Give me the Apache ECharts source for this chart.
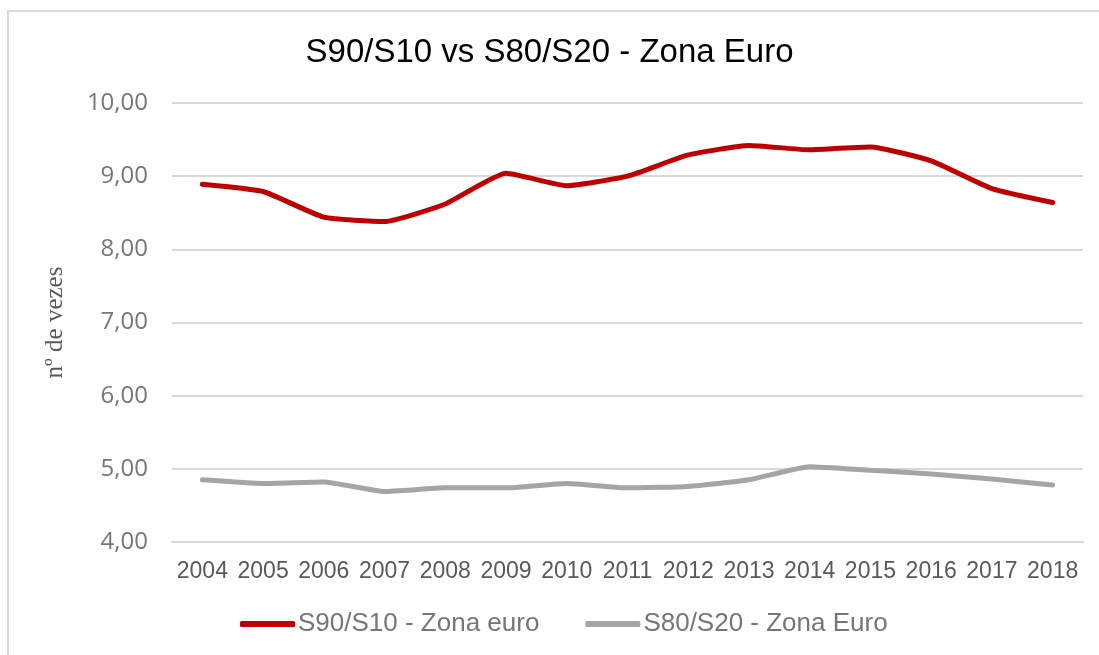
<!DOCTYPE html>
<html>
<head>
<meta charset="utf-8">
<script src="https://cdn.jsdelivr.net/npm/echarts@6/dist/echarts.min.js"></script>
<style>
html,body{margin:0;padding:0;background:#fff;}
#chart{width:1099px;height:655px;}
</style>
</head>
<body>
<div id="chart"></div>
<script>
// dados
var years = ['2004','2005','2006','2007','2008','2009','2010','2011','2012','2013','2014','2015','2016','2017','2018'];
var s90s10 = [8.89, 8.79, 8.44, 8.38, 8.62, 9.04, 8.87, 9.00, 9.29, 9.42, 9.36, 9.40, 9.21, 8.83, 8.64];
var s80s20 = [4.85, 4.80, 4.82, 4.69, 4.74, 4.74, 4.80, 4.74, 4.76, 4.85, 5.03, 4.98, 4.93, 4.86, 4.78];
var seriesNames = ['S90/S10 - Zona euro', 'S80/S20 - Zona Euro'];

var chart = echarts.init(document.getElementById('chart'));
var option = {
    backgroundColor: '#fff',
    animation: false,
    title: {
        text: 'S90/S10 vs S80/S20 - Zona Euro',
        left: 'center',
        top: 31,
        textStyle: {
            fontFamily: 'Liberation Sans, Arial, sans-serif',
            fontSize: 33,
            fontWeight: 'normal',
            color: '#000'
        }
    },
    graphic: [{
        type: 'rect',
        shape: {x: 8, y: 11, width: 1200, height: 800},
        style: {fill: 'none', stroke: '#d9d9d9', lineWidth: 2},
        silent: true
    }],
    legend: {
        top: 606,
        left: 235,
        itemWidth: 55,
        itemHeight: 6,
        itemGap: 46,
        icon: 'roundRect',
        textStyle: {
            fontFamily: 'Liberation Sans, Arial, sans-serif',
            fontSize: 26,
            color: '#767676',
            padding: [0, 0, 0, -2]
        },
        data: seriesNames
    },
    grid: {
        left: 172,
        right: 16,
        top: 103,
        bottom: 113
    },
    xAxis: {
        type: 'category',
        data: years,
        boundaryGap: true,
        axisLine: {lineStyle: {color: '#d9d9d9', width: 2}},
        axisTick: {show: false},
        axisLabel: {
            fontFamily: 'Liberation Sans, Arial, sans-serif',
            fontSize: 23,
            color: '#595959',
            margin: 18,
            interval: 0
        }
    },
    yAxis: {
        type: 'value',
        min: 4,
        max: 10,
        interval: 1,
        name: 'nº de vezes',
        nameLocation: 'middle',
        nameGap: 104,
        nameTextStyle: {
            fontFamily: 'Liberation Serif, Times New Roman, serif',
            fontSize: 25,
            color: '#595959'
        },
        axisLine: {show: false},
        axisTick: {show: false},
        splitLine: {lineStyle: {color: '#d9d9d9', width: 2}},
        axisLabel: {
            fontFamily: 'Open Sans, sans-serif',
            fontSize: 24,
            color: '#767676',
            margin: 24,
            formatter: function (v) { return v.toFixed(2).replace('.', ','); }
        }
    },
    series: [
        {
            name: seriesNames[0],
            type: 'line',
            data: s90s10,
            smooth: 0.15,
            symbol: 'none',
            lineStyle: {color: '#C00000', width: 5, cap: 'round'},
            itemStyle: {color: '#C00000'}
        },
        {
            name: seriesNames[1],
            type: 'line',
            data: s80s20,
            smooth: 0.15,
            symbol: 'none',
            lineStyle: {color: '#A5A5A5', width: 5, cap: 'round'},
            itemStyle: {color: '#A5A5A5'}
        }
    ]
};
chart.setOption(option);
</script>
</body>
</html>
